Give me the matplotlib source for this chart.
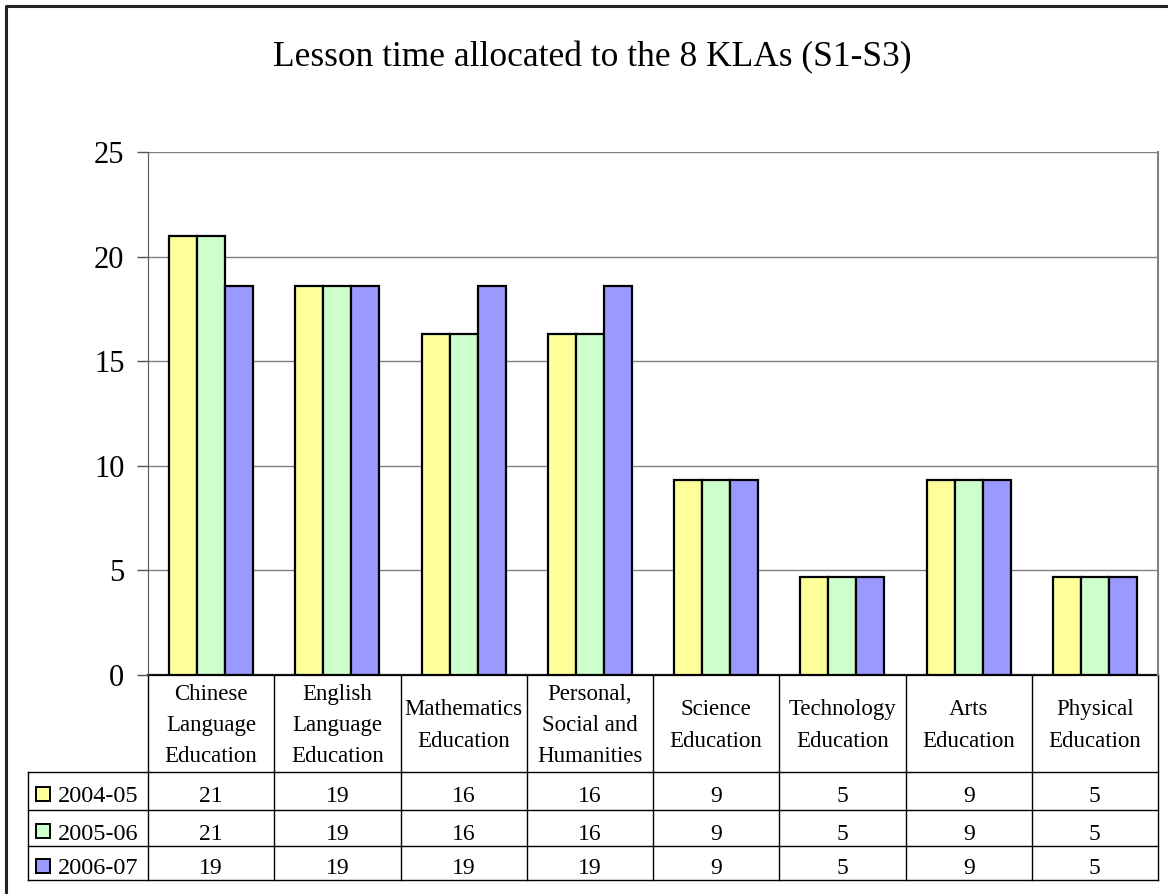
import matplotlib
matplotlib.use("Agg")
import matplotlib.pyplot as plt
import matplotlib.transforms as mtransforms
import matplotlib.patches as mpatches
import numpy as np

plt.rcParams["font.family"] = ["Liberation Serif", "DejaVu Serif"]

title = "Lesson time allocated to the 8 KLAs (S1-S3)"
categories = [
    "Chinese\nLanguage\nEducation",
    "English\nLanguage\nEducation",
    "Mathematics\nEducation",
    "Personal,\nSocial and\nHumanities",
    "Science\nEducation",
    "Technology\nEducation",
    "Arts\nEducation",
    "Physical\nEducation",
]
years = ["2004-05", "2005-06", "2006-07"]
v_2004 = [21, 18.6, 16.3, 16.3, 9.3, 4.7, 9.3, 4.7]
v_2005 = [21, 18.6, 16.3, 16.3, 9.3, 4.7, 9.3, 4.7]
v_2006 = [18.6, 18.6, 18.6, 18.6, 9.3, 4.7, 9.3, 4.7]
series = [v_2004, v_2005, v_2006]
colors = ["#FFFF99", "#CCFFCC", "#9999FF"]
yticks = [0, 5, 10, 15, 20, 25]

W, H = 1168, 894
fig = plt.figure(figsize=(W / 100, H / 100), dpi=100)

# overlay in pixel coordinates for border, title and table
over = fig.add_axes([0, 0, 1, 1])
over.set_xlim(0, W)
over.set_ylim(H, 0)
over.axis("off")

# plot area
left, right, top, bottom = 148, 1158, 152, 675
ax = fig.add_axes([left / W, 1 - bottom / H, (right - left) / W, (bottom - top) / H])
ax.set_facecolor("none")

x = np.arange(len(categories))
bw = 0.222
for i, (vals, col) in enumerate(zip(series, colors)):
    ax.bar(x + (i - 1) * bw, vals, width=bw, color=col, edgecolor="black",
           linewidth=1.6, zorder=3)

ax.set_xlim(-0.5, len(categories) - 0.5)
ax.set_ylim(0, 25)
ax.set_yticks(yticks)
ax.set_xticks([])
ax.tick_params(axis="y", length=8, width=1, color="#555555", labelsize=22, pad=9)
ax.yaxis.grid(True, color="#808080", linewidth=1, zorder=0)
for s in ["top", "bottom"]:
    ax.spines[s].set_visible(False)
ax.spines["left"].set_color("#555555")
ax.spines["right"].set_color("#808080")
ax.spines["right"].set_linewidth(1.5)

# outer frame
over.plot([6, 6, W + 5], [H + 5, 6, 6], color="#222222", linewidth=2.2)

over.text(592, 58, title, ha="center", va="center", fontsize=25.5)

# data table below the plot
tr = mtransforms.blended_transform_factory(ax.transData, over.transData)
row_lines = [772, 810, 846, 880]
tab_left = 28
edges = np.arange(len(categories) + 1) - 0.5

over.plot([left, right], [bottom, bottom], color="black", linewidth=1.6)
for e in edges:
    ax.plot([e, e], [bottom, row_lines[-1]], color="black", linewidth=1,
            transform=tr, clip_on=False)
over.plot([tab_left, tab_left], [row_lines[0], row_lines[-1]], color="black", linewidth=1)
for yl in row_lines:
    over.plot([tab_left, right], [yl, yl], color="black", linewidth=1)

for xi, cat in zip(x, categories):
    ax.text(xi, (bottom + row_lines[0]) / 2 + 2, cat, transform=tr, ha="center",
            va="center", fontsize=16.5, linespacing=1.65, clip_on=False)

for r, (yr, vals, col) in enumerate(zip(years, series, colors)):
    yc = (row_lines[r] + row_lines[r + 1]) / 2
    over.add_patch(mpatches.Rectangle((36, yc - 4), 14, 14, facecolor=col,
                                      edgecolor="black", linewidth=1.4))
    over.text(58, yc + 6, yr, ha="left", va="center", fontsize=17.5)
    for xi, v in zip(x, vals):
        ax.text(xi, yc + 6, f"{v:.0f}", transform=tr, ha="center", va="center",
                fontsize=17, clip_on=False)

fig.savefig("out.png", dpi=100)
